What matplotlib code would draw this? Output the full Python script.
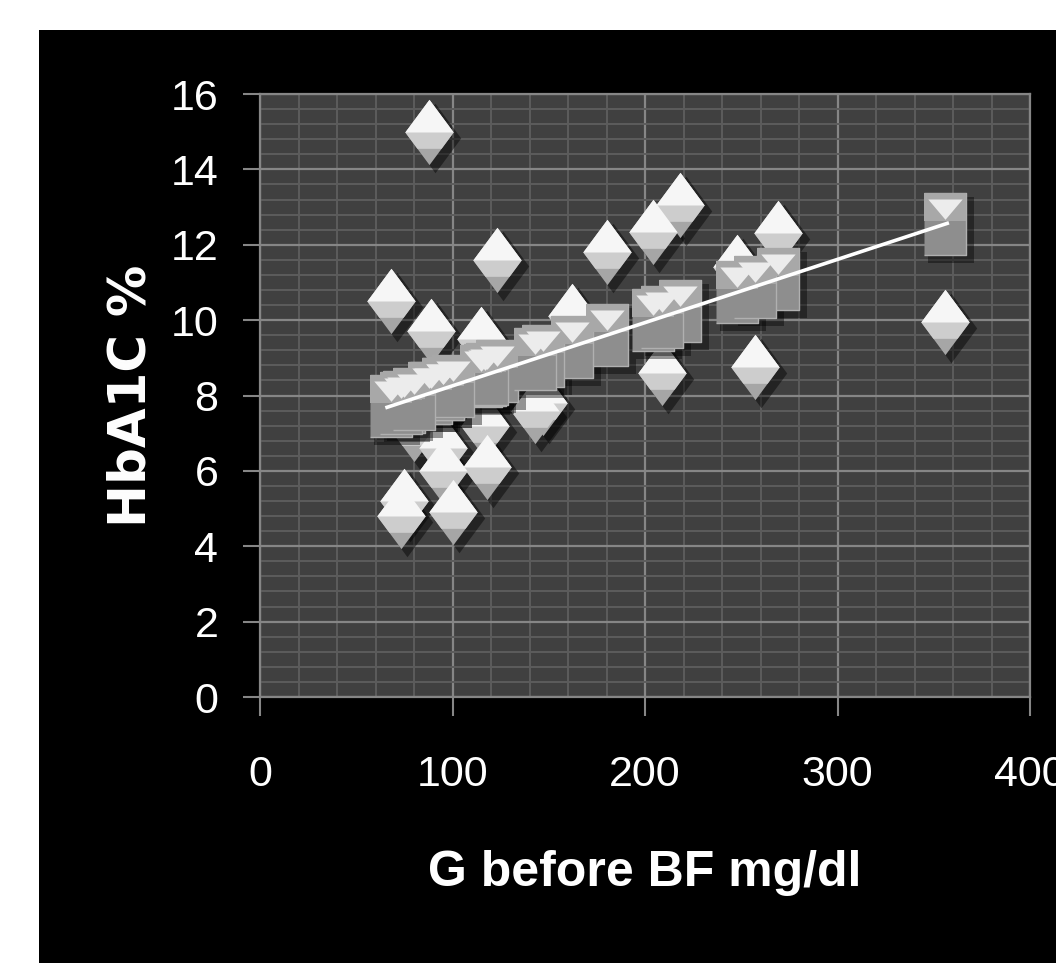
import numpy as np
import matplotlib.pyplot as plt
import matplotlib.transforms as mtransforms
from matplotlib.patches import Rectangle
from matplotlib.ticker import MultipleLocator

# measured values (diamonds)
g_before_bf = [88, 68, 89, 123, 115, 180, 204, 218, 162, 269, 248, 209,
               257, 147, 356, 117, 95, 118, 95, 75, 73, 100, 143, 80]
hba1c = [15.0, 10.5, 9.7, 11.6, 9.5, 11.8, 12.35, 13.05, 10.1, 12.3, 11.4, 8.6,
         8.75, 7.8, 9.95, 7.2, 6.6, 6.1, 6.0, 5.2, 4.8, 4.9, 7.6, 7.1]
# predicted values (squares), same x positions
hba1c_pred = [8.06, 7.72, 8.07, 8.64, 8.51, 9.60, 10.0, 10.24, 9.30, 11.09, 10.74, 10.08,
              10.89, 9.05, 12.55, 8.54, 8.17, 8.56, 8.17, 7.84, 7.80, 8.26, 8.98, 7.92]

x_ticks = [0, 100, 200, 300, 400]
y_ticks = [0, 2, 4, 6, 8, 10, 12, 14, 16]

TXT = 'Liberation Sans'

fig = plt.figure(figsize=(10.56, 9.63), dpi=100, facecolor='white')
# black chart panel
fig.patches.append(Rectangle((39 / 1056, 0), 1, (963 - 30) / 963, transform=fig.transFigure,
                             facecolor='black', edgecolor='none', zorder=-1))

ax = fig.add_axes([260 / 1056, 1 - 697 / 963, 770 / 1056, 603 / 963])
ax.set_facecolor('#404040')
ax.set_xlim(0, 400)
ax.set_ylim(0, 16)
ax.set_xticks(x_ticks)
ax.set_yticks(y_ticks)
ax.xaxis.set_minor_locator(MultipleLocator(20))
ax.yaxis.set_minor_locator(MultipleLocator(0.4))
ax.grid(which='major', color='#868686', linewidth=1.6)
ax.grid(which='minor', color='#5c5c5c', linewidth=1.4)
ax.set_axisbelow(True)
for s in ax.spines.values():
    s.set_color('#868686')
    s.set_linewidth(1.6)

ax.tick_params(which='minor', length=0)
ax.tick_params(axis='y', which='major', length=12, width=1.5, color='#868686', pad=18,
               labelcolor='white', labelsize=31)
ax.tick_params(axis='x', which='major', length=14, width=1.5, color='#868686', pad=28,
               labelcolor='white', labelsize=31)
for lab in ax.get_xticklabels() + ax.get_yticklabels():
    lab.set_family(TXT)

# marker shapes (taller than wide, like the stretched original)
diamond = [(0, 1), (0.74, 0), (0, -1), (-0.74, 0)]
diamond_mid = [(0, 1), (0.74, 0), (0.37, -0.5), (-0.37, -0.5), (-0.74, 0)]
diamond_top = [(0, 1), (0.74, 0), (-0.74, 0)]
square = [(-0.68, -1), (0.68, -1), (0.68, 1), (-0.68, 1)]
square_top = [(-0.68, 0.1), (0.68, 0.1), (0.68, 1), (-0.68, 1)]
square_tri = [(-0.55, 0.8), (0.55, 0.8), (0, 0.15)]

ms_d = 47
ms_s = 45
shadow = mtransforms.offset_copy(ax.transData, fig=fig, x=6, y=-6, units='dots')

ax.plot(g_before_bf, hba1c, ls='none', marker=diamond, ms=ms_d + 3, mew=0,
        color='black', alpha=0.45, transform=shadow, zorder=2)
ax.plot(g_before_bf, hba1c, ls='none', marker=diamond, ms=ms_d, mew=0, color='#a6a6a6', zorder=3)
ax.plot(g_before_bf, hba1c, ls='none', marker=diamond_mid, ms=ms_d, mew=0, color='#cdcdcd', zorder=3)
ax.plot(g_before_bf, hba1c, ls='none', marker=diamond_top, ms=ms_d, mew=0, color='#f6f6f6', zorder=3)

ax.plot(g_before_bf, hba1c_pred, ls='none', marker=square, ms=ms_s + 3, mew=0,
        color='black', alpha=0.4, transform=shadow, zorder=4)
ax.plot(g_before_bf, hba1c_pred, ls='none', marker=square, ms=ms_s, mew=1, mec='#b0b0b0',
        color='#8e8e8e', zorder=5)
ax.plot(g_before_bf, hba1c_pred, ls='none', marker=square_top, ms=ms_s, mew=0, color='#a8a8a8', zorder=5)
ax.plot(g_before_bf, hba1c_pred, ls='none', marker=square_tri, ms=ms_s * 0.8, mew=0,
        color='#ececec', zorder=5)

# linear trendline over the predicted series
k, b = np.polyfit(g_before_bf, hba1c_pred, 1)
xs = np.array([min(g_before_bf) - 2, max(g_before_bf) + 1])
ax.plot(xs, k * xs + b, color='white', linewidth=2.6, zorder=6)

ax.set_xlabel('G before BF mg/dl', color='white', fontsize=36, fontweight='bold',
              family=TXT, labelpad=39)
ax.set_ylabel('HbA1C %', color='white', fontsize=37, fontweight='bold',
              family='DejaVu Sans', labelpad=10)

fig.savefig('out.png', dpi=100, facecolor=fig.get_facecolor())
